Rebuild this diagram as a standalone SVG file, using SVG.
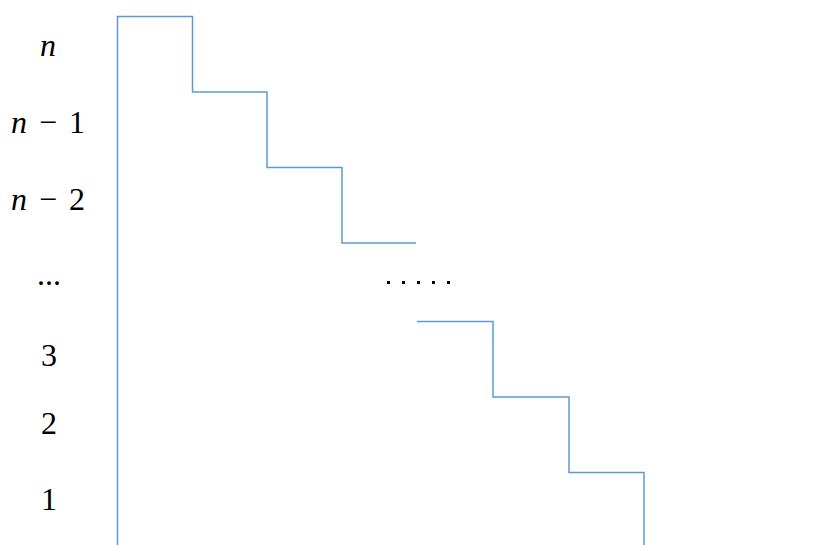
<svg xmlns="http://www.w3.org/2000/svg" width="832" height="545" viewBox="0 0 832 545">
<style>
.s{fill:none;stroke:#5b9bd5;stroke-width:1.5}
.t{font-family:"Liberation Serif",serif;font-size:32px;fill:#000;text-anchor:middle}
.i{font-style:italic}
.d{fill:#000}
</style>
<rect width="832" height="545" fill="#fff"/>
<g id="labels">
<text class="t i" x="48" y="56">n</text>
<text class="t" x="48" y="133"><tspan class="i">n</tspan><tspan dx="12">−</tspan><tspan dx="12">1</tspan></text>
<text class="t" x="48" y="210"><tspan class="i">n</tspan><tspan dx="12">−</tspan><tspan dx="12">2</tspan></text>
<text class="t" x="49" y="285" font-size="22">...</text>
<text class="t" x="49" y="366">3</text>
<text class="t" x="49" y="434">2</text>
<text class="t" x="49" y="510">1</text>
</g>
<g id="connectors">
<path class="s" d="M117.5,545 V16.5 H192.5 V92 H267 V167.5 H342 V243 H416"/>
<path class="s" d="M417,321.5 H493 V397 H569 V472.5 H644 V545"/>
</g>
<g id="dots">
<rect class="d" x="387" y="281" width="3" height="3"/>
<rect class="d" x="402" y="281" width="3" height="3"/>
<rect class="d" x="417" y="281" width="3" height="3"/>
<rect class="d" x="432" y="281" width="3" height="3"/>
<rect class="d" x="447" y="281" width="3" height="3"/>
</g>
</svg>
